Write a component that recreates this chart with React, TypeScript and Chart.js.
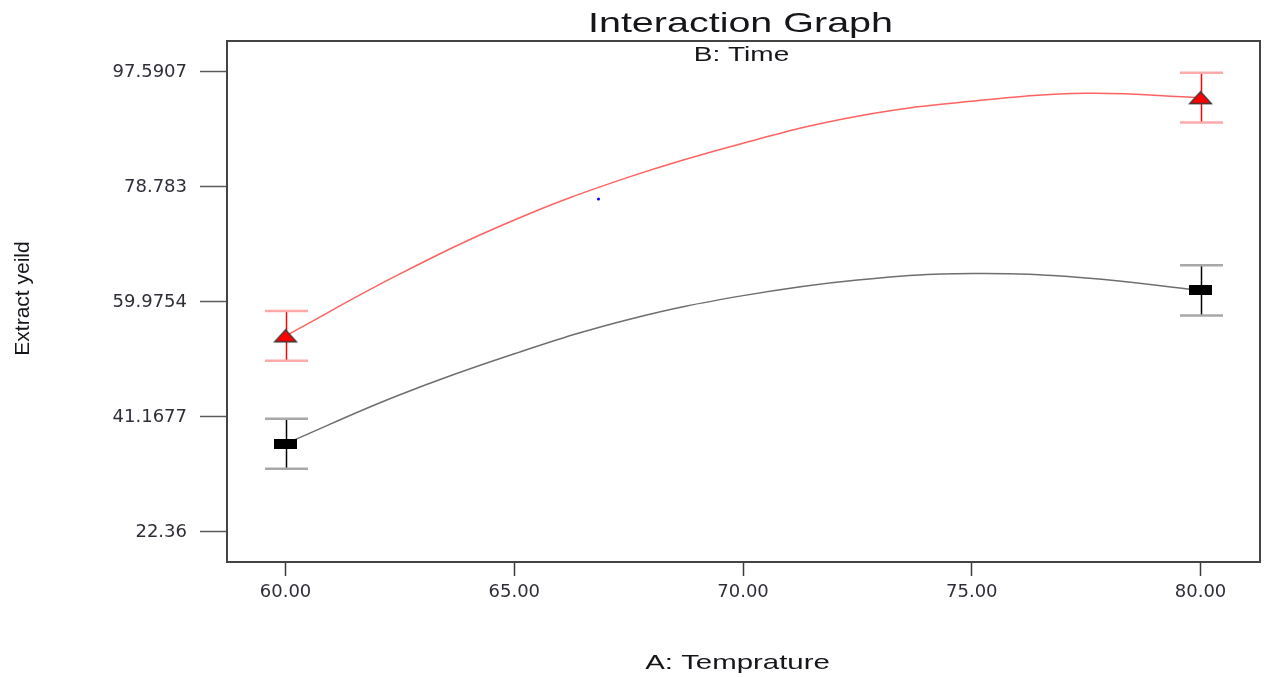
import React, { useEffect, useRef } from 'react';
import { Chart, registerables } from 'chart.js';

Chart.register(...registerables);

// ---- data ----
const curveTemps = [60, 62.5, 65, 67.5, 70, 72.5, 75, 77.5, 80];
const timeHighCurve = [54.42, 64.55, 73.37, 80.39, 85.94, 90.35, 92.8, 94.11, 93.38];
const timeLowCurve = [36.78, 44.78, 51.48, 57.11, 61.0, 63.57, 64.63, 63.9, 61.85];

const designTemps = [60, 80];
const timeHighMeans = [54.42, 93.38];
const timeLowMeans = [36.78, 61.85];
const timeHighLSD = [4.08, 4.07];
const timeLowLSD = [4.1, 4.1];

const strayTemps = [66.84];
const strayValues = [76.8];

const yTickValues = [22.36, 41.1677, 59.9754, 78.783, 97.5907];
const yTickLabels = ['22.36', '41.1677', '59.9754', '78.783', '97.5907'];
const xTickValues = [60, 65, 70, 75, 80];
const xTickLabels = ['60.00', '65.00', '70.00', '75.00', '80.00'];

const chartTitle = 'Interaction Graph';
const legendTitle = 'B: Time';
const xAxisTitle = 'A: Temprature';
const yAxisTitle = 'Extract yeild';

const Y_MIN = 17.43;
const Y_MAX = 102.65;
const X_MIN = 58.72;
const X_MAX = 81.3;

function stretchedText(ctx: CanvasRenderingContext2D, text: string, cx: number, baseline: number, font: string, sx: number) {
  ctx.save();
  ctx.font = font;
  ctx.fillStyle = '#15151a';
  ctx.textAlign = 'center';
  ctx.textBaseline = 'alphabetic';
  ctx.translate(cx, baseline);
  ctx.scale(sx, 1);
  ctx.fillText(text, 0, 0);
  ctx.restore();
}

const decorPlugin = {
  id: 'decor',
  beforeDatasetsDraw(chart: any) {
    const ctx: CanvasRenderingContext2D = chart.ctx;
    const xs = chart.scales.x;
    const ys = chart.scales.y;
    const series = [
      { means: timeLowMeans, err: timeLowLSD, stem: '#000000', cap: '#a8a8a8' },
      { means: timeHighMeans, err: timeHighLSD, stem: '#ff0000', cap: '#ffaaaa' },
    ];
    ctx.save();
    series.forEach((s) => {
      designTemps.forEach((t, i) => {
        const px = Math.round(xs.getPixelForValue(t)) + 0.5;
        const pHi = ys.getPixelForValue(s.means[i] + s.err[i]);
        const pLo = ys.getPixelForValue(s.means[i] - s.err[i]);
        ctx.strokeStyle = s.stem;
        ctx.lineWidth = 1.5;
        ctx.beginPath();
        ctx.moveTo(px, pHi);
        ctx.lineTo(px, pLo);
        ctx.stroke();
        ctx.strokeStyle = s.cap;
        ctx.lineWidth = 2.5;
        ctx.beginPath();
        ctx.moveTo(px - 21.5, pHi);
        ctx.lineTo(px + 21.5, pHi);
        ctx.moveTo(px - 21.5, pLo);
        ctx.lineTo(px + 21.5, pLo);
        ctx.stroke();
      });
    });
    ctx.restore();
  },
  afterDraw(chart: any) {
    const ctx: CanvasRenderingContext2D = chart.ctx;
    const { left, right, top, bottom } = chart.chartArea;
    ctx.save();
    ctx.strokeStyle = '#444444';
    ctx.lineWidth = 2;
    ctx.strokeRect(left, top, right - left, bottom - top);
    ctx.restore();

    const cx = (left + right) / 2 - 3;
    stretchedText(ctx, chartTitle, cx, top - 9, '28px "Liberation Sans"', 1.41);
    stretchedText(ctx, legendTitle, cx + 1, top + 20, '20px "Liberation Sans"', 1.4);
    stretchedText(ctx, xAxisTitle, cx - 3, bottom + 107, '21px "Liberation Sans"', 1.4);

    ctx.save();
    ctx.font = '21px "Liberation Sans"';
    ctx.fillStyle = '#15151a';
    ctx.textAlign = 'center';
    ctx.textBaseline = 'alphabetic';
    ctx.translate(29, (top + bottom) / 2 - 3);
    ctx.rotate(-Math.PI / 2);
    ctx.fillText(yAxisTitle, 0, 0);
    ctx.restore();
  },
};

function makeTriangle(): HTMLCanvasElement {
  const c = document.createElement('canvas');
  c.width = 25;
  c.height = 15;
  const g = c.getContext('2d')!;
  g.beginPath();
  g.moveTo(12.5, 1.5);
  g.lineTo(23.5, 13.5);
  g.lineTo(1.5, 13.5);
  g.closePath();
  g.fillStyle = '#ff0000';
  g.fill();
  g.strokeStyle = '#3a3a3a';
  g.lineWidth = 1.3;
  g.stroke();
  return c;
}

function makeBlock(): HTMLCanvasElement {
  const c = document.createElement('canvas');
  c.width = 23;
  c.height = 10;
  const g = c.getContext('2d')!;
  g.fillStyle = '#000000';
  g.fillRect(0, 0, 23, 10);
  return c;
}

export default function App() {
  const canvasRef = useRef<HTMLCanvasElement | null>(null);

  useEffect(() => {
    if (!canvasRef.current) return;
    const tri = makeTriangle();
    const block = makeBlock();
    const toXY = (xs: number[], ys: number[]) => xs.map((x, i) => ({ x, y: ys[i] }));

    const chart = new Chart(canvasRef.current, {
      type: 'line',
      data: {
        datasets: [
          {
            label: 'Time high (means)',
            data: toXY(designTemps, timeHighMeans),
            showLine: false,
            pointStyle: tri as any,
            pointRadius: 11,
            pointHoverRadius: 11,
          },
          {
            label: 'Time low (means)',
            data: toXY(designTemps, timeLowMeans),
            showLine: false,
            pointStyle: block as any,
            pointRadius: 11,
            pointHoverRadius: 11,
          },
          {
            label: 'stray',
            data: toXY(strayTemps, strayValues),
            showLine: false,
            pointRadius: 1.5,
            pointBackgroundColor: '#0000ff',
            pointBorderColor: '#0000ff',
            pointBorderWidth: 0,
          },
          {
            label: 'Time high',
            data: toXY(curveTemps, timeHighCurve),
            borderColor: 'rgba(255,70,70,0.85)',
            borderWidth: 1.5,
            pointRadius: 0,
            tension: 0.4,
            fill: false,
          },
          {
            label: 'Time low',
            data: toXY(curveTemps, timeLowCurve),
            borderColor: '#6e6e6e',
            borderWidth: 1.5,
            pointRadius: 0,
            tension: 0.4,
            fill: false,
          },
        ],
      },
      options: {
        animation: false,
        responsive: false,
        devicePixelRatio: 1,
        layout: { autoPadding: false, padding: { left: 0, right: 5, top: 41, bottom: 0 } },
        plugins: {
          legend: { display: false },
          tooltip: { enabled: false },
          title: { display: false },
        },
        scales: {
          x: {
            type: 'linear',
            min: X_MIN,
            max: X_MAX,
            afterFit: (s: any) => {
              s.height = 115;
              s.paddingLeft = 0;
              s.paddingRight = 0;
            },
            afterBuildTicks: (s: any) => {
              s.ticks = xTickValues.map((v) => ({ value: v }));
            },
            ticks: {
              autoSkip: false,
              maxRotation: 0,
              padding: 6,
              color: '#2e2e38',
              font: { family: 'DejaVu Sans', size: 18 },
              callback: (_v: any, i: number) => xTickLabels[i],
            },
            grid: {
              drawOnChartArea: false,
              drawTicks: true,
              tickLength: 14,
              tickColor: '#3a3a3a',
              tickWidth: 1.5,
            },
            border: { display: false },
          },
          y: {
            type: 'linear',
            min: Y_MIN,
            max: Y_MAX,
            afterFit: (s: any) => {
              s.width = 227;
              s.paddingTop = 0;
              s.paddingBottom = 0;
            },
            afterBuildTicks: (s: any) => {
              s.ticks = yTickValues.map((v) => ({ value: v }));
            },
            ticks: {
              autoSkip: false,
              padding: 13,
              color: '#2e2e38',
              font: { family: 'DejaVu Sans', size: 18 },
              callback: (_v: any, i: number) => yTickLabels[i],
            },
            grid: {
              drawOnChartArea: false,
              drawTicks: true,
              tickLength: 27,
              tickColor: '#5a5a5a',
              tickWidth: 1.5,
            },
            border: { display: false },
          },
        },
      },
      plugins: [decorPlugin],
    });
    return () => chart.destroy();
  }, []);

  return (
    <div style={{ position: 'absolute', left: 0, top: 0, width: 1265, height: 677, background: '#ffffff' }}>
      <canvas ref={canvasRef} width={1265} height={677} style={{ display: 'block' }} />
    </div>
  );
}
